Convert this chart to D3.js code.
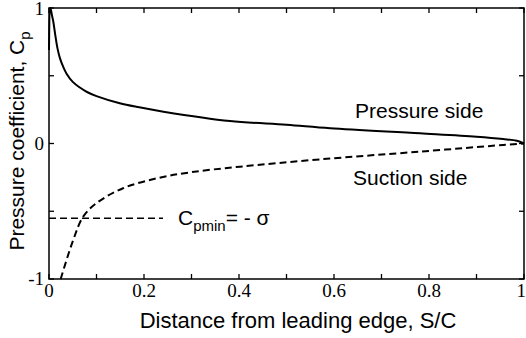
<!DOCTYPE html>
<html>
<head>
<meta charset="utf-8">
<script src="https://cdn.jsdelivr.net/npm/d3@7"></script>
<style>
  body { margin: 0; background: #fff; }
  svg { display: block; }
</style>
</head>
<body>
<div id="content"></div>
<script>
// values
var pressureS  = [0, 0.003, 0.006, 0.009, 0.0126, 0.018, 0.023, 0.03, 0.037, 0.05, 0.065, 0.08, 0.1, 0.149, 0.19, 0.241, 0.381, 0.5, 0.592, 0.781, 0.9, 0.956, 0.985, 1.0];
var pressureCp = [0.69, 1.0, 0.95, 0.9, 0.815, 0.7, 0.63, 0.565, 0.515, 0.455, 0.413, 0.38, 0.35, 0.297, 0.267, 0.235, 0.166, 0.138, 0.112, 0.075, 0.05, 0.033, 0.02, 0.0];
var suctionS   = [0.0246, 0.051, 0.072, 0.1, 0.156, 0.227, 0.297, 0.402, 0.571, 0.781, 0.956, 1.0];
var suctionCp  = [-1.0, -0.712, -0.54, -0.44, -0.33, -0.257, -0.213, -0.171, -0.117, -0.06, -0.011, 0.0];
var cpMin = -0.552, cpMinEnd = 0.24;
var xTicks = [0, 0.2, 0.4, 0.6, 0.8, 1];
var yTicks = [-1, 0, 1];

var width = 526, height = 338;
var svg = d3.select('#content').append('svg')
  .attr('width', width).attr('height', height);

var x = d3.scaleLinear().domain([0, 1]).range([49, 524]);
var y = d3.scaleLinear().domain([-1, 1]).range([279, 8]);

var serif = '"Liberation Serif", "DejaVu Serif", serif';
var sans = '"Liberation Sans", Arial, sans-serif';

// ticks (inward), all four sides
var minorX = d3.range(0, 11).map(function(i) { return i / 10; });
var minorY = [-1, -0.5, 0, 0.5, 1];
var tk = svg.append('g').attr('stroke', '#000').attr('stroke-width', 1.3);
minorX.forEach(function(v) {
  tk.append('line').attr('x1', x(v)).attr('x2', x(v)).attr('y1', y(-1)).attr('y2', y(-1) - 5);
  tk.append('line').attr('x1', x(v)).attr('x2', x(v)).attr('y1', y(1)).attr('y2', y(1) + 5);
});
minorY.forEach(function(v) {
  tk.append('line').attr('x1', x(0)).attr('x2', x(0) + 5).attr('y1', y(v)).attr('y2', y(v));
  tk.append('line').attr('x1', x(1)).attr('x2', x(1) - 5).attr('y1', y(v)).attr('y2', y(v));
});

// frame
svg.append('rect')
  .attr('x', x(0)).attr('y', y(1))
  .attr('width', x(1) - x(0)).attr('height', y(-1) - y(1))
  .attr('fill', 'none').attr('stroke', '#000').attr('stroke-width', 1.5);

// tick labels
svg.selectAll('text.xt').data(xTicks).enter().append('text')
  .attr('class', 'xt')
  .attr('x', function(d) { return d === 1 ? 526 : x(d); })
  .attr('y', 297)
  .attr('text-anchor', function(d) { return d === 1 ? 'end' : 'middle'; })
  .style('font-family', serif).style('font-size', '19px')
  .text(function(d) { return d === 0 || d === 1 ? d : d.toFixed(1); });

svg.selectAll('text.yt').data(yTicks).enter().append('text')
  .attr('class', 'yt')
  .attr('x', 44)
  .attr('y', function(d) { return d === 1 ? 15 : y(d) + 6; })
  .attr('text-anchor', 'end')
  .style('font-family', serif).style('font-size', '19px')
  .text(function(d) { return d; });

// curves
var line = d3.line()
  .x(function(d) { return x(d[0]); })
  .y(function(d) { return y(d[1]); })
  .curve(d3.curveCatmullRom.alpha(0.5));

svg.append('path')
  .datum(pressureS.map(function(s, i) { return [s, pressureCp[i]]; }))
  .attr('d', line)
  .attr('fill', 'none').attr('stroke', '#000').attr('stroke-width', 2);

svg.append('path')
  .datum(suctionS.map(function(s, i) { return [s, suctionCp[i]]; }))
  .attr('d', line)
  .attr('fill', 'none').attr('stroke', '#000').attr('stroke-width', 2)
  .attr('stroke-dasharray', '7,4');

// Cpmin line
svg.append('line')
  .attr('x1', x(0)).attr('x2', x(cpMinEnd))
  .attr('y1', y(cpMin)).attr('y2', y(cpMin))
  .attr('stroke', '#000').attr('stroke-width', 1.5)
  .attr('stroke-dasharray', '7,4');

// annotations
var cp = svg.append('text')
  .attr('x', 178).attr('y', y(cpMin) + 7)
  .style('font-family', sans).style('font-size', '21px');
cp.append('tspan').text('C');
cp.append('tspan').attr('dy', 6).style('font-size', '15px').text('pmin');
cp.append('tspan').attr('dy', -6).text('= - σ');

svg.append('text')
  .attr('x', 355).attr('y', 118)
  .style('font-family', sans).style('font-size', '21px')
  .text('Pressure side');

svg.append('text')
  .attr('x', 353).attr('y', 185)
  .style('font-family', sans).style('font-size', '21px')
  .text('Suction side');

// axis titles
svg.append('text')
  .attr('x', 298).attr('y', 328)
  .attr('text-anchor', 'middle')
  .style('font-family', sans).style('font-size', '22px')
  .text('Distance from leading edge, S/C');

var yt = svg.append('text')
  .attr('transform', 'translate(24,141) rotate(-90)')
  .attr('text-anchor', 'middle')
  .style('font-family', sans).style('font-size', '21px');
yt.append('tspan').text('Pressure coefficient, C');
yt.append('tspan').attr('dy', 6).style('font-size', '15px').text('p');
</script>
</body>
</html>
